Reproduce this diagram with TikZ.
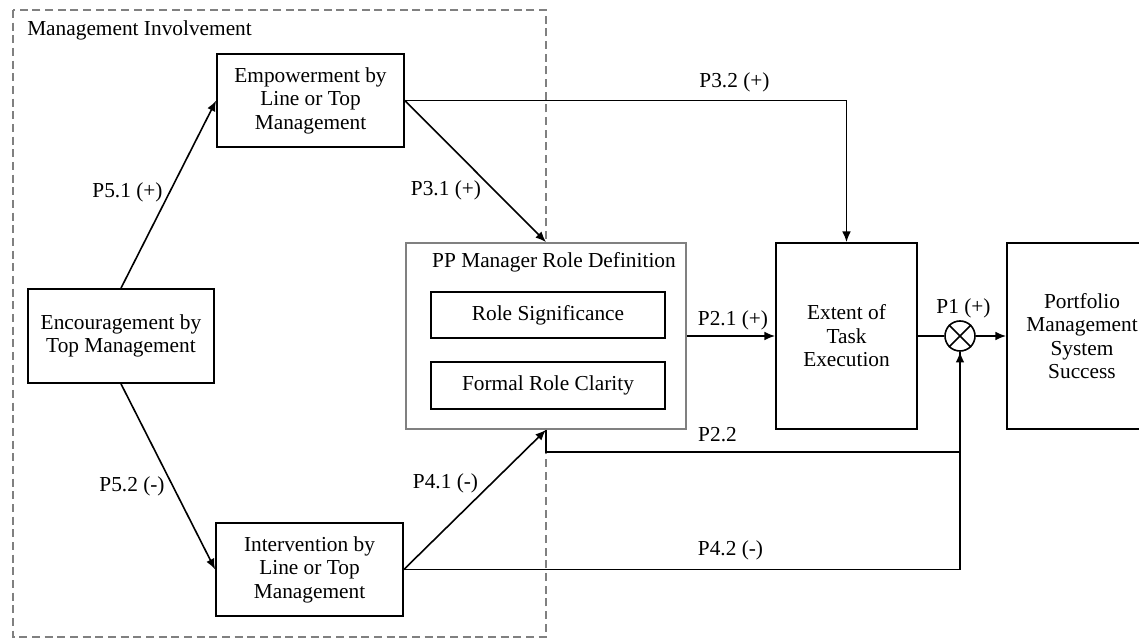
\documentclass[tikz,border=0pt]{standalone}
\usepackage{fontspec}
\setmainfont{Liberation Serif}
\usetikzlibrary{arrows.meta}
\begin{document}
\begin{tikzpicture}[x=0.75pt,y=-0.75pt,
  every node/.style={font=\fontsize{16}{17.6}\selectfont},
  box/.style={draw,line width=1.3pt,align=center,inner sep=0pt,fill=white},
  lbl/.style={inner sep=0pt},
  conn/.style={line width=1.2pt},
  arr/.style={conn,-{Latex[length=8pt,width=6.5pt]}}]
\useasboundingbox (0,0) rectangle (1139,641);
\fill[white] (0,0) rectangle (1139,641);
% management involvement region
\draw[gray, dash pattern=on 6pt off 3.5pt, line width=1pt] (13,10) rectangle (546,637);
\node[lbl, anchor=west] (mi) at (27,30) {Management Involvement};
% boxes
\node[box, minimum width=140.25pt, minimum height=69.75pt] (emp) at (310.5,100.5) {Empowerment by\\Line or Top\\Management};
\node[box, minimum width=139.5pt, minimum height=70.5pt] (enc) at (121,336) {Encouragement by\\Top Management};
\node[box, minimum width=140.25pt, minimum height=69.75pt] (int) at (309.5,569.5) {Intervention by\\Line or Top\\Management};
\node[box, draw=gray, minimum width=210pt, minimum height=139.5pt] (pp) at (546,336) {};
\node[lbl] (ppt) at (554,262) {PP Manager Role Definition};
\node[box, minimum width=175.5pt, minimum height=34.5pt] (rs) at (548,315) {Role Significance};
\node[box, minimum width=175.5pt, minimum height=35.25pt] (frc) at (548,385.5) {Formal Role Clarity};
\node[box, minimum width=105.75pt, minimum height=139.5pt] (ext) at (846.5,336) {Extent of\\Task\\Execution};
\node[box, minimum width=112.5pt, minimum height=139.5pt] (pms) at (1082,336) {Portfolio\\Management\\System\\Success};
\node[draw, circle, line width=1.2pt, minimum size=22.5pt, inner sep=0pt] (ot) at (960,336) {};
\draw[conn] (ot.north west) -- (ot.south east) (ot.north east) -- (ot.south west);
% connectors
\draw[arr] (enc.north) -- (emp.west);
\draw[arr] (enc.south) -- (int.west);
\draw[arr] (emp.east) -| (ext.north);
\draw[arr] (emp.east) -- (pp.north);
\draw[arr] (int.east) -- (pp.south);
\draw[conn] (pp.south) -- ++(0,22) coordinate (p22) -| (ot.south);
\draw[arr] (int.east) -| (ot.south);
\draw[arr] (pp.east) -- (ext.west);
\draw[conn] (ext.east) -- (ot.west);
\draw[arr] (ot.east) -- (pms.west);
% labels
\node[lbl] (l51) at (127.5,192) {P5.1 (+)};
\node[lbl] (l52) at (132,486) {P5.2 (-)};
\node[lbl] (l31) at (446,190) {P3.1 (+)};
\node[lbl] (l32) at (734.5,82) {P3.2 (+)};
\node[lbl] (l41) at (445.5,483) {P4.1 (-)};
\node[lbl] (l21) at (733,320) {P2.1 (+)};
\node[lbl] (l22) at (717.5,435) {P2.2};
\node[lbl] (l42) at (730.5,550) {P4.2 (-)};
\node[lbl] (l1) at (963.5,308) {P1 (+)};
\end{tikzpicture}
\end{document}
